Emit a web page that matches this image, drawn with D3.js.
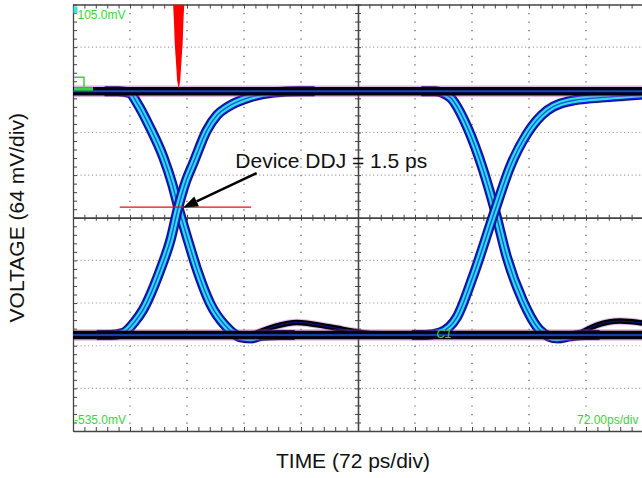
<!DOCTYPE html>
<html>
<head>
<meta charset="utf-8">
<script src="https://cdn.jsdelivr.net/npm/d3@7"></script>
<style>
body { margin: 0; background: #fff; }
svg { display: block; font-family: Arial, "Liberation Sans", Helvetica, sans-serif; }
</style>
</head>
<body>
<svg id="chart" width="642" height="478"></svg>
<script>
// scope screen: 10 div x 72 ps, 10 div x 64 mV
const timeRange = [0, 720];
const voltRange = [-535, 105];
const divisions = 10;
const minorPerDiv = 5;

const topLabel = "105.0mV";
const bottomLabel = "-535.0mV";
const timebaseLabel = "72.00ps/div";
const xTitle = "TIME (72 ps/div)";
const yTitle = "VOLTAGE (64 mV/div)";
const annotation = "Device DDJ = 1.5 ps";

// eye traces as [ps, mV]
const highLevel = [[0, -25], [720, -25]];
const lowLevel = [[0, -391], [720, -391]];

const fall1 = [[40, -25], [57, -25], [72, -28], [81, -43], [97, -79], [114, -124], [125, -163], [133, -199],
               [144, -244], [157, -294], [173, -343], [194, -379], [211, -394], [224, -396], [239, -392], [262, -391], [280, -391]];
const rise1 = [[30, -391], [47, -391], [63, -388], [78, -371], [88, -354], [110, -294], [123, -249], [133, -199],
               [143, -159], [152, -133], [169, -84], [182, -61], [195, -49], [224, -34], [253, -27], [287, -25], [305, -25]];
const fall2 = [[440, -25], [457, -25], [476, -34], [498, -79], [518, -143], [533, -204], [548, -274], [568, -339],
               [590, -384], [611, -396], [628, -393], [647, -391], [665, -391]];
const rise2 = [[428, -391], [445, -391], [464, -387], [485, -364], [505, -304], [533, -204], [552, -139], [574, -88],
               [599, -54], [632, -39], [675, -34], [719, -30]];
const bump1 = [[217, -396], [232, -388], [255, -378], [283, -372], [325, -379], [363, -387], [388, -390], [413, -391]];
const bump2 = [[615, -396], [638, -389], [662, -376], [691, -370], [720, -373]];

// crossing histogram (red) : [mV, half width ps]
const spikeTime = 133.5;
const spikeProfile = [[105, 7], [80, 6], [46, 5], [11, 3], [-9, 2], [-22, 0]];

// DDJ marker
const ddjLine = [[59, -199], [225, -199]];
const arrowFrom = [232, -148];
const arrowTo = [139, -200];
const annotationAt = [205, -141];

const svg = d3.select("#chart");
const margin = {left: 73, top: 4.5, right: -1, bottom: 47};
const W = 642, H = 478;

const x = d3.scaleLinear().domain(timeRange).range([margin.left, W - margin.right]);
const y = d3.scaleLinear().domain(voltRange).range([H - margin.bottom, margin.top]);

const divT = (timeRange[1] - timeRange[0]) / divisions;
const divV = (voltRange[1] - voltRange[0]) / divisions;
const minorT = d3.range(0, divisions * minorPerDiv + 1).map(i => timeRange[0] + i * divT / minorPerDiv);
const minorV = d3.range(0, divisions * minorPerDiv + 1).map(i => voltRange[0] + i * divV / minorPerDiv);
const majorT = d3.range(0, divisions + 1).map(i => timeRange[0] + i * divT);
const majorV = d3.range(0, divisions + 1).map(i => voltRange[0] + i * divV);
const midT = (timeRange[0] + timeRange[1]) / 2;
const midV = (voltRange[0] + voltRange[1]) / 2;

const grid = svg.append("g");
const minorPy = (y(0) - y(divV)) / minorPerDiv;

// dotted verticals
grid.selectAll(".vgrid")
    .data(majorT.filter(t => t !== midT && t !== timeRange[0]))
    .join("line")
    .attr("x1", d => x(d)).attr("x2", d => x(d))
    .attr("y1", y(voltRange[1])).attr("y2", y(voltRange[0]))
    .attr("stroke", "#555")
    .attr("stroke-width", 1.2)
    .attr("stroke-dasharray", `1.2,${(minorPy - 1.2).toFixed(2)}`);

// dotted horizontals
grid.selectAll(".hgrid")
    .data(majorV.filter(v => v !== midV && v !== voltRange[0] && v !== voltRange[1]))
    .join("line")
    .attr("x1", x(timeRange[0])).attr("x2", x(timeRange[1]))
    .attr("y1", d => y(d)).attr("y2", d => y(d))
    .attr("stroke", "#9a9a9a")
    .attr("stroke-width", 1.1)
    .attr("stroke-dasharray", "1.1,2.7");

// frame + minor ticks via axes
function styleAxis(g) {
    g.selectAll("text").remove();
    g.select(".domain").attr("stroke", "#444").attr("stroke-width", 1.3);
    g.selectAll(".tick line").attr("stroke", "#444").attr("stroke-width", 1);
}
svg.append("g").attr("transform", `translate(0,${y(voltRange[1])})`)
    .call(d3.axisBottom(x).tickValues(minorT).tickSize(4).tickSizeOuter(0)).call(styleAxis);
svg.append("g").attr("transform", `translate(0,${y(voltRange[0])})`)
    .call(d3.axisTop(x).tickValues(minorT).tickSize(4).tickSizeOuter(0)).call(styleAxis);
svg.append("g").attr("transform", `translate(${x(timeRange[0])},0)`)
    .call(d3.axisRight(y).tickValues(minorV).tickSize(4).tickSizeOuter(0)).call(styleAxis);
// centre cross with ticks both sides
svg.append("g").attr("transform", `translate(0,${y(midV)})`)
    .call(d3.axisBottom(x).tickValues(minorT).tickSize(3).tickSizeOuter(0)).call(styleAxis);
svg.append("g").attr("transform", `translate(0,${y(midV)})`)
    .call(d3.axisTop(x).tickValues(minorT).tickSize(3).tickSizeOuter(0)).call(styleAxis);
svg.append("g").attr("transform", `translate(${x(midT)},0)`)
    .call(d3.axisRight(y).tickValues(minorV).tickSize(3).tickSizeOuter(0)).call(styleAxis);
svg.append("g").attr("transform", `translate(${x(midT)},0)`)
    .call(d3.axisLeft(y).tickValues(minorV).tickSize(3).tickSizeOuter(0)).call(styleAxis);

// traces
svg.append("clipPath").attr("id", "plotclip").append("rect")
    .attr("x", x(timeRange[0])).attr("y", y(voltRange[1]))
    .attr("width", x(timeRange[1]) - x(timeRange[0]))
    .attr("height", y(voltRange[0]) - y(voltRange[1]));
const traces = svg.append("g").attr("clip-path", "url(#plotclip)");

const line = d3.line().x(d => x(d[0])).y(d => y(d[1])).curve(d3.curveMonotoneX);

function drawTrace(pts, layers) {
    layers.forEach(l => {
        traces.append("path")
            .datum(pts)
            .attr("d", line)
            .attr("fill", "none")
            .attr("stroke", l.c)
            .attr("stroke-width", l.w)
            .attr("stroke-opacity", l.o)
            .attr("stroke-linecap", "butt");
    });
}

const flatLayers = [
    {c: "#b040c0", w: 11.5, o: 0.4},
    {c: "#000", w: 8.5, o: 1},
    {c: "#1020d0", w: 2.5, o: 0.7},
    {c: "#30d0e0", w: 0.8, o: 0.6}
];
const edgeLayers = [
    {c: "#8040c0", w: 11, o: 0.3},
    {c: "#0a0a30", w: 10, o: 1},
    {c: "#0c1ce6", w: 8.6, o: 1},
    {c: "#2ce0e0", w: 5.6, o: 1},
    {c: "#1426e0", w: 1.4, o: 0.75}
];
const bumpLayers = [
    {c: "#b040c0", w: 7.5, o: 0.35},
    {c: "#000", w: 5.5, o: 1},
    {c: "#1020d0", w: 1.2, o: 0.6}
];

[bump1, bump2].forEach(b => drawTrace(b, bumpLayers));
[fall1, rise1, fall2, rise2].forEach(e => drawTrace(e, edgeLayers));
drawTrace(lowLevel, flatLayers);
drawTrace(highLevel, flatLayers);

// crossing histogram
const spikeArea = d3.area()
    .y(d => y(d[0]))
    .x0(d => x(spikeTime - d[1]))
    .x1(d => x(spikeTime + d[1]))
    .curve(d3.curveLinear);
traces.append("path")
    .datum(spikeProfile)
    .attr("d", spikeArea)
    .attr("fill", "#ff0000");

// markers
const green = "#3cd23c";
svg.append("rect")
    .attr("x", x(timeRange[0]) + 0.5).attr("y", y(voltRange[1]) + 2)
    .attr("width", 4).attr("height", 7)
    .attr("fill", "#40e0e0");
const hy = y(highLevel[0][1]);
svg.append("path")
    .attr("d", `M${x(0) + 1},${hy - 14} H${x(0) + 11} V${hy - 3}`)
    .attr("fill", "none").attr("stroke", green).attr("stroke-width", 1.5);
svg.append("rect")
    .attr("x", x(0) + 1).attr("y", hy - 4).attr("width", 19).attr("height", 3.5)
    .attr("fill", green);
svg.append("text")
    .attr("x", x(459)).attr("y", y(-396))
    .attr("fill", green).attr("font-size", 12).attr("font-style", "italic")
    .text("C1");

svg.append("text")
    .attr("x", x(timeRange[0]) + 4.5).attr("y", y(voltRange[1]) + 14.5)
    .attr("fill", green).attr("font-size", 12).text(topLabel);
svg.append("text")
    .attr("x", x(timeRange[0]) + 1).attr("y", y(voltRange[0]) - 7)
    .attr("fill", green).attr("font-size", 12).text(bottomLabel);
svg.append("text")
    .attr("x", x(timeRange[1]) - 66).attr("y", y(voltRange[0]) - 7)
    .attr("fill", green).attr("font-size", 12).text(timebaseLabel);

// DDJ level line and arrow
svg.append("line")
    .attr("x1", x(ddjLine[0][0])).attr("x2", x(ddjLine[1][0]))
    .attr("y1", y(ddjLine[0][1])).attr("y2", y(ddjLine[1][1]))
    .attr("stroke", "#e01010").attr("stroke-width", 1.2);

const ax0 = x(arrowFrom[0]), ay0 = y(arrowFrom[1]);
const ax1 = x(arrowTo[0]), ay1 = y(arrowTo[1]);
const ang = Math.atan2(ay1 - ay0, ax1 - ax0);
const headLen = 15, headW = 5.5;
const bx = ax1 - headLen * Math.cos(ang), by = ay1 - headLen * Math.sin(ang);
svg.append("line")
    .attr("x1", ax0).attr("y1", ay0).attr("x2", bx).attr("y2", by)
    .attr("stroke", "#000").attr("stroke-width", 2.4);
svg.append("path")
    .attr("d", `M${ax1},${ay1} L${bx + headW * Math.sin(ang)},${by - headW * Math.cos(ang)} L${bx - headW * Math.sin(ang)},${by + headW * Math.cos(ang)} Z`)
    .attr("fill", "#000");

svg.append("text")
    .attr("x", x(annotationAt[0])).attr("y", y(annotationAt[1]))
    .attr("font-size", 21).attr("fill", "#111")
    .text(annotation);

// axis titles
svg.append("text")
    .attr("x", 353).attr("y", 468)
    .attr("text-anchor", "middle")
    .attr("font-size", 21).attr("fill", "#111")
    .text(xTitle);
svg.append("text")
    .attr("transform", `translate(24,${y(midV)}) rotate(-90)`)
    .attr("text-anchor", "middle")
    .attr("font-size", 21).attr("fill", "#111")
    .text(yTitle);
</script>
</body>
</html>
